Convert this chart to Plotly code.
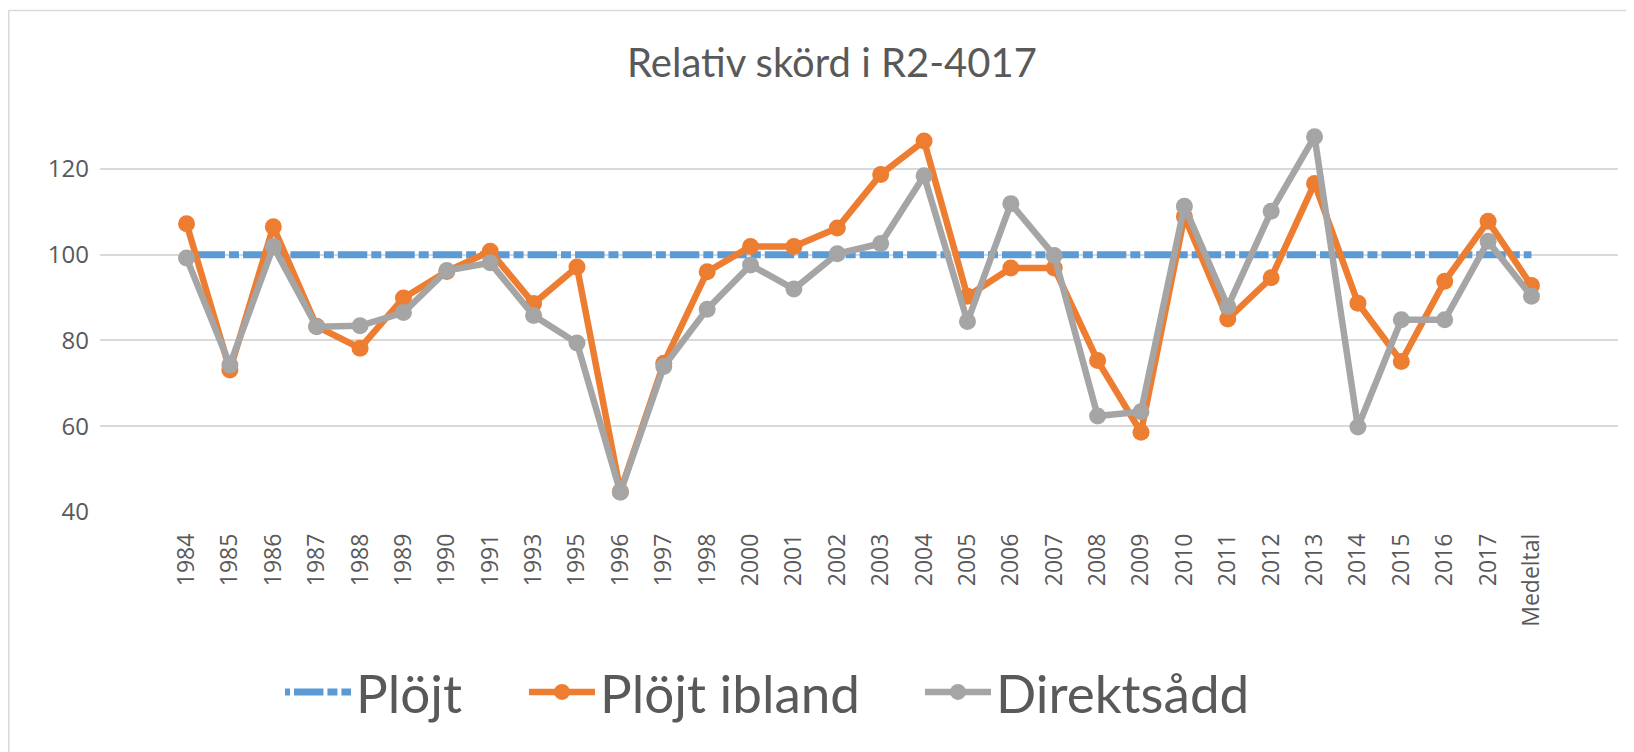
import plotly.graph_objects as go

categories = ["1984", "1985", "1986", "1987", "1988", "1989", "1990", "1991", "1993", "1995",
              "1996", "1997", "1998", "2000", "2001", "2002", "2003", "2004", "2005", "2006",
              "2007", "2008", "2009", "2010", "2011", "2012", "2013", "2014", "2015", "2016",
              "2017", "Medeltal"]

plojt = [100] * len(categories)

plojt_ibland = [107.2, 73.1, 106.5, 83.3, 78.2, 89.9, 96.1, 100.8, 88.6, 97.1,
                44.8, 74.7, 96.0, 101.9, 101.9, 106.2, 118.7, 126.5, 90.3, 96.9,
                96.9, 75.3, 58.6, 108.9, 85.0, 94.6, 116.6, 88.7, 75.1, 93.8,
                107.8, 92.8]

direktsadd = [99.2, 74.3, 101.9, 83.2, 83.4, 86.5, 96.3, 98.1, 85.8, 79.4,
              44.6, 73.9, 87.3, 97.6, 92.0, 100.2, 102.6, 118.4, 84.4, 111.9,
              99.8, 62.4, 63.4, 111.3, 87.9, 110.1, 127.5, 59.8, 84.8, 84.8,
              103.1, 90.3]

series_names = ["Plöjt", "Plöjt ibland", "Direktsådd"]
y_ticks = [40, 60, 80, 100, 120]
title_text = "Relativ skörd i R2-4017"

TEXT = "#595959"
W, H = 1634, 752
ML, MR, MT, MB = 92, 24, 118, 248

ph = H - MT - MB
pw = W - ML - MR

fig = go.Figure()
fig.add_trace(go.Scatter(
    x=categories, y=plojt, name=series_names[0], mode="lines", legend="legend",
    line=dict(color="#5B9BD5", width=7, dash="5px,4px,29.4375px,4px,5px,0px"),
))
fig.add_trace(go.Scatter(
    x=categories, y=plojt_ibland, name=series_names[1], mode="lines+markers", legend="legend2",
    line=dict(color="#ED7D31", width=6.5),
    marker=dict(color="#ED7D31", size=17),
))
fig.add_trace(go.Scatter(
    x=categories, y=direktsadd, name=series_names[2], mode="lines+markers", legend="legend3",
    line=dict(color="#A5A5A5", width=6.5),
    marker=dict(color="#A5A5A5", size=17),
))

# outer chart border (light grey), extends off page at right/bottom
fig.add_shape(type="rect", xref="paper", yref="paper",
              x0=(0.75 - ML) / pw, x1=(W + 10 - ML) / pw,
              y0=(H - MB - (H + 10)) / ph, y1=(H - MB - 2.5) / ph,
              line=dict(color="#D9D9D9", width=1.5), fillcolor="rgba(0,0,0,0)", layer="below")

legend_common = dict(orientation="h", xanchor="left", yanchor="middle",
                     y=(H - MB - 684) / ph,
                     font=dict(family="Lato", size=53, color=TEXT),
                     bgcolor="rgba(0,0,0,0)", itemwidth=66)

fig.update_layout(
    width=W, height=H,
    margin=dict(l=ML, r=MR, t=MT, b=MB),
    paper_bgcolor="white", plot_bgcolor="white",
    title=dict(text=title_text, x=824 / W, xanchor="center", y=1 - 55 / H, yanchor="middle",
               yref="container", xref="container",
               font=dict(family="Lato", size=40, color=TEXT)),
    xaxis=dict(type="category", showgrid=False, showline=False, zeroline=False, ticks="",
               tickangle=-90, tickfont=dict(family="Open Sans", size=23, color=TEXT),
               ticklabelstandoff=16),
    yaxis=dict(range=[40, 130], tickvals=y_ticks, showgrid=True, gridcolor="#D9D9D9", gridwidth=2,
               zeroline=False, showline=False, ticks="",
               tickfont=dict(family="Open Sans", size=24, color=TEXT), ticklabelstandoff=10),
    legend=dict(x=(272 - ML) / pw, **legend_common),
    legend2=dict(x=(516 - ML) / pw, **legend_common),
    legend3=dict(x=(912 - ML) / pw, **legend_common),
    showlegend=True,
)

fig.write_html("out.html")
